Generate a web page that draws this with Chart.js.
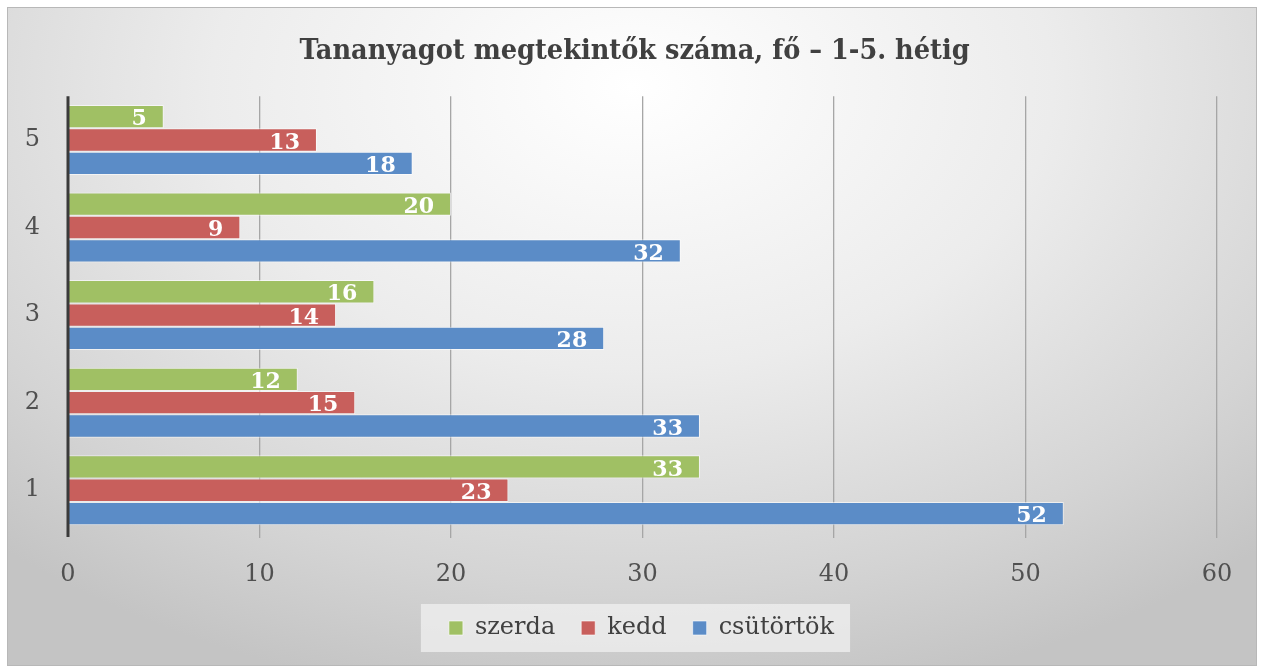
<!DOCTYPE html>
<html>
<head>
<meta charset="utf-8">
<script src="https://cdn.jsdelivr.net/npm/chart.js@4"></script>
<style>
  html, body { margin: 0; padding: 0; background: #ffffff; }
  #box {
    position: absolute; left: 7px; top: 7px; width: 1248px; height: 657px;
    border: 1px solid #b8b8b8;
    background: radial-gradient(ellipse 75% 95% at 50% 12%, #ffffff 0%, #ececec 45%, #d4d4d4 80%, #c4c4c4 100%);
  }
  canvas { display: block; }
</style>
</head>
<body>
<div id="box"><canvas id="bars" width="1248" height="657"></canvas></div>
<script>
// weeks 1..5 (1 at the bottom, like the original)
const weeks = ["1", "2", "3", "4", "5"];
const szerda = [33, 12, 16, 20, 5];
const kedd = [23, 15, 14, 9, 13];
const csutortok = [52, 33, 28, 32, 18];
const xTicks = [0, 10, 20, 30, 40, 50, 60];

const serif = "'DejaVu Serif', 'Liberation Serif', serif";
const titleFont = "'DejaVu Serif Condensed', 'Liberation Serif', serif";

// nudge title and legend to the right, like in the original
const nudge = {
    id: "nudge",
    afterLayout(chart) {
        const t = chart.titleBlock;
        if (t) { t.left += 22; t.right += 22; }
        const lg = chart.legend;
        if (lg) {
            lg.left += 29; lg.right += 29;
            lg.legendHitBoxes.forEach(h => { h.left += 29; });
        }
    }
};

// light box behind the legend
const legendBox = {
    id: "legendBox",
    beforeDraw(chart) {
        const lg = chart.legend;
        if (!lg || !lg.legendHitBoxes.length) return;
        const hb = lg.legendHitBoxes;
        const first = hb[0], last = hb[hb.length - 1];
        const ctx = chart.ctx;
        ctx.save();
        ctx.fillStyle = "rgba(240,240,240,0.75)";
        ctx.fillRect(first.left - 28, first.top - 12, last.left + last.width - first.left + 44, first.height + 24);
        ctx.restore();
    }
};

// white values inside the end of each bar, and the value axis line on top
const barValues = {
    id: "barValues",
    afterDatasetsDraw(chart) {
        const ctx = chart.ctx;
        const area = chart.chartArea;
        ctx.save();
        ctx.strokeStyle = "#3a3a3a";
        ctx.lineWidth = 3;
        ctx.beginPath();
        ctx.moveTo(area.left, area.top);
        ctx.lineTo(area.left, area.bottom + 3);
        ctx.stroke();

        ctx.fillStyle = "#ffffff";
        ctx.font = "bold 22px " + serif;
        ctx.textAlign = "right";
        ctx.textBaseline = "middle";
        chart.data.datasets.forEach((ds, i) => {
            chart.getDatasetMeta(i).data.forEach((bar, j) => {
                ctx.fillText(String(ds.data[j]), bar.x - 17, bar.y + 3);
            });
        });
        ctx.restore();
    }
};

const ctx = document.getElementById("bars").getContext("2d");
new Chart(ctx, {
    type: "bar",
    data: {
        labels: weeks,
        datasets: [
            { label: "szerda", data: szerda, backgroundColor: "#a0c064", borderColor: "rgba(255,255,255,0.6)", borderWidth: 1 },
            { label: "kedd", data: kedd, backgroundColor: "#c85f5c", borderColor: "rgba(255,255,255,0.6)", borderWidth: 1 },
            { label: "csütörtök", data: csutortok, backgroundColor: "#5b8cc7", borderColor: "rgba(255,255,255,0.6)", borderWidth: 1 },
        ],
    },
    options: {
        indexAxis: "y",
        responsive: false,
        animation: false,
        layout: { padding: { top: 20, bottom: 15, left: 0, right: 39 } },
        datasets: { bar: { categoryPercentage: 0.8, barPercentage: 1.0 } },
        scales: {
            x: {
                min: 0,
                max: 60,
                afterBuildTicks: (axis) => { axis.ticks = xTicks.map(v => ({ value: v })); },
                afterFit: (axis) => { axis.height = 56; },
                grid: {
                    color: (c) => (c.tick && c.tick.value === 0 ? "rgba(0,0,0,0)" : "#a6a6a6"),
                    lineWidth: 1.3,
                    tickLength: 4,
                },
                border: { display: false },
                ticks: { color: "#505050", font: { family: serif, size: 24 }, padding: 22 },
            },
            y: {
                reverse: true,
                afterFit: (axis) => { axis.width = 60; },
                grid: { display: false },
                border: { display: false },
                ticks: { color: "#505050", font: { family: serif, size: 24 }, padding: 20 },
            },
        },
        plugins: {
            title: {
                display: true,
                text: "Tananyagot megtekintők száma, fő – 1-5. hétig",
                color: "#404040",
                font: { family: titleFont, size: 28.5, weight: "bold" },
                padding: { top: 6, bottom: 28 },
            },
            legend: {
                position: "bottom",
                labels: {
                    color: "#404040",
                    font: { family: serif, size: 24 },
                    boxWidth: 14,
                    boxHeight: 14,
                    padding: 26,
                },
            },
            tooltip: { enabled: false },
        },
    },
    plugins: [nudge, legendBox, barValues],
});
</script>
</body>
</html>
